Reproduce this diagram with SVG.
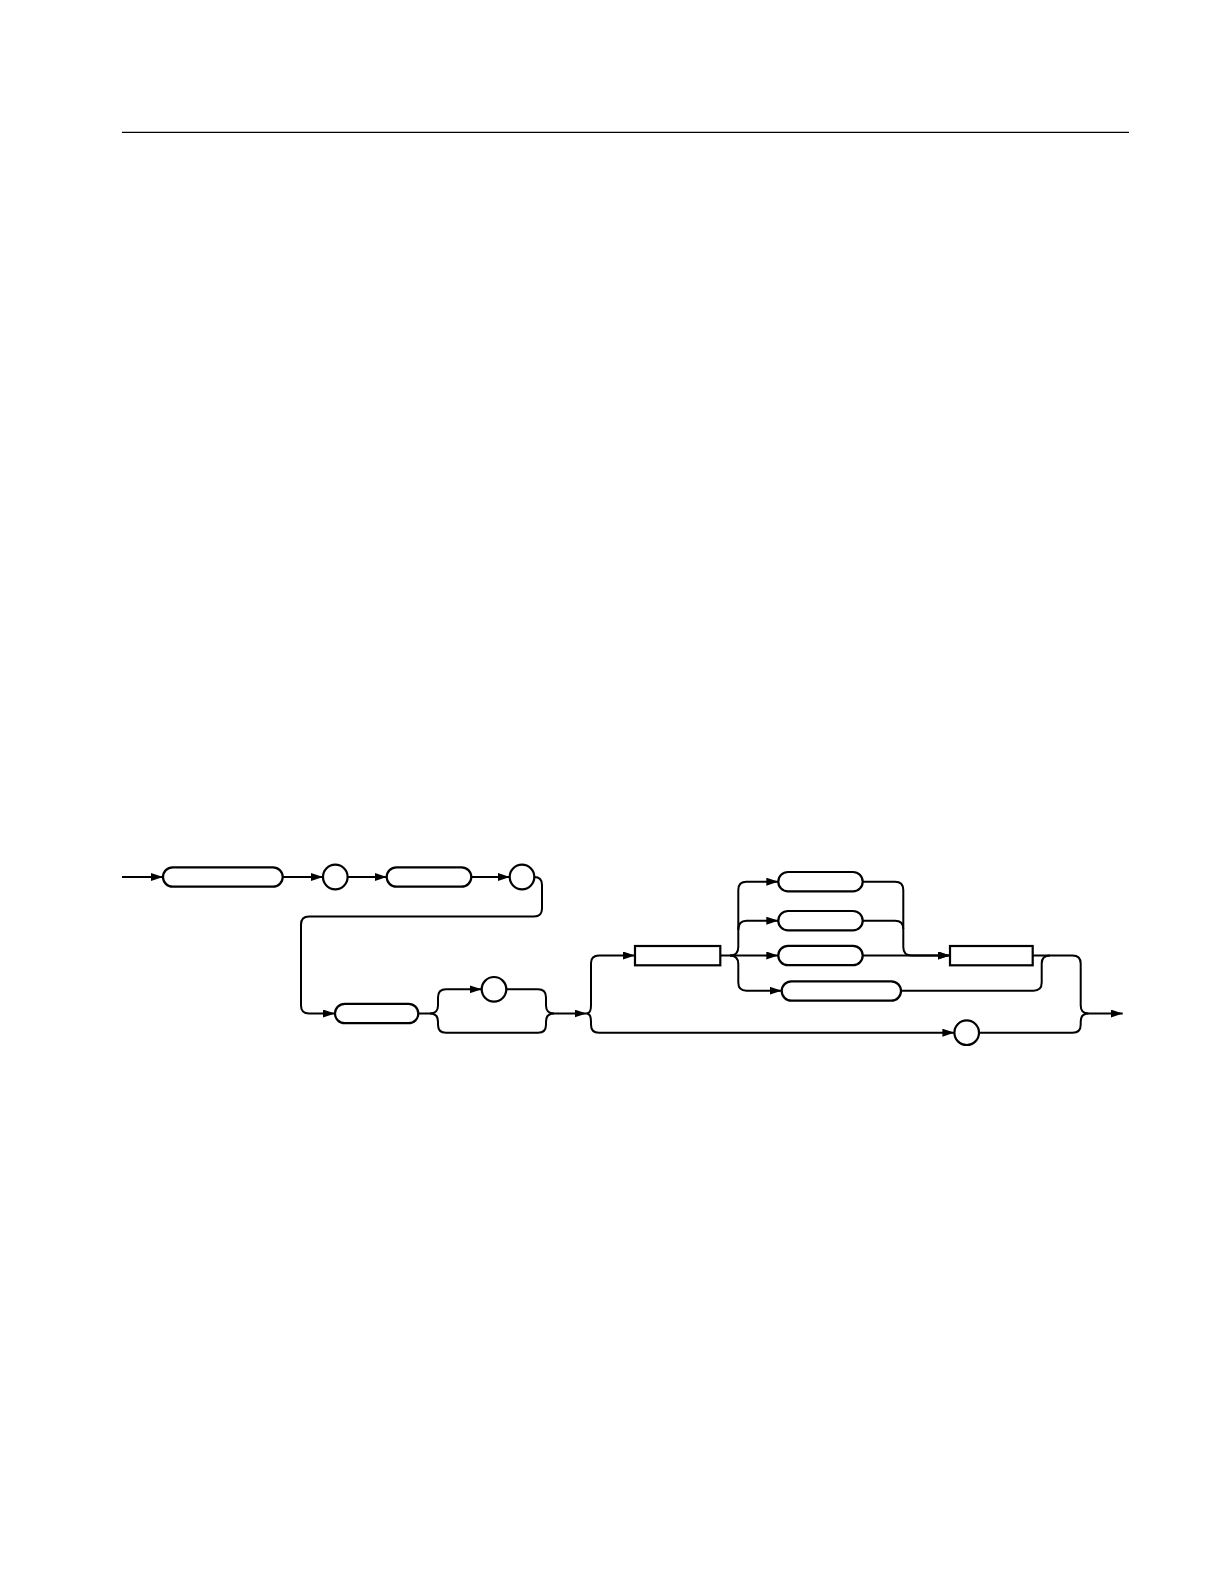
<svg xmlns="http://www.w3.org/2000/svg" width="1224" height="1584" viewBox="0 0 1224 1584">
<defs>
<marker id="arr" markerUnits="userSpaceOnUse" markerWidth="12" markerHeight="8" refX="12" refY="4" orient="auto">
<path d="M0,0 L12,4 L0,8 z" fill="#000"/>
</marker>
<style>
.n{fill:#fff;stroke:#000;stroke-width:2.2}
.c{fill:none;stroke:#000;stroke-width:2}
.a{marker-end:url(#arr)}
</style>
</defs>
<rect width="1224" height="1584" fill="#fff"/>
<line x1="122" y1="132.3" x2="1129" y2="132.3" stroke="#000" stroke-width="1.3"/>
<g id="connectors">
<path class="c a" d="M122,877 H163"/>
<path class="c a" d="M282.7,877 H323"/>
<path class="c a" d="M347.6,877 H386.7"/>
<path class="c a" d="M471.3,877 H509.7"/>
<path class="c a" d="M534.3,877 Q542,877 542,885 V908.5 Q542,916.5 534,916.5 H309 Q301,916.5 301,924.5 V1005.5 Q301,1013.5 309,1013.5 H335"/>
<path class="c" d="M418.3,1013.5 H430"/>
<path class="c a" d="M430,1013.5 Q438,1013.5 438,1005.5 V997.3 Q438,989.3 446,989.3 H481.7"/>
<path class="c" d="M430,1013.5 Q438,1013.5 438,1021.5 V1024.7 Q438,1032.7 446,1032.7 H538 Q546,1032.7 546,1024.7 V1021.5 Q546,1013.5 554,1013.5"/>
<path class="c" d="M506.3,989.3 H538 Q546,989.3 546,997.3 V1005.5 Q546,1013.5 554,1013.5"/>
<path class="c a" d="M554,1013.5 H586.5"/>
<path class="c a" d="M586.5,1013.5 Q591,1013.5 591,1005.5 V963 Q591,955.5 599,955.5 H635"/>
<path class="c a" d="M586.5,1013.5 Q591,1013.5 591,1021.5 V1024.7 Q591,1032.7 599,1032.7 H954.4"/>
<path class="c" d="M720.3,955.5 H730"/>
<path class="c a" d="M730,955.5 Q738.3,955.5 738.3,947 V890 Q738.3,881.7 746.5,881.7 H778.3"/>
<path class="c a" d="M738.3,930 Q738.3,920.7 746.5,920.7 H778.3"/>
<path class="c a" d="M730,955.5 H778.3"/>
<path class="c a" d="M730,955.5 Q738.3,955.5 738.3,964 V982.5 Q738.3,990.7 746.5,990.7 H781.7"/>
<path class="c a" d="M862.7,881.7 H895 Q903.3,881.7 903.3,890 V947 Q903.3,955.5 911.5,955.5 H950"/>
<path class="c" d="M862.7,920.7 H895 Q903.3,920.7 903.3,929"/>
<path class="c a" d="M862.7,955.5 H950"/>
<path class="c a" d="M1032.7,955.5 H1072.5 Q1080.7,955.5 1080.7,963.5 V1005.5 Q1080.7,1013.5 1088.5,1013.5 H1122.7"/>
<path class="c" d="M901,990.7 H1033.5 Q1041.7,990.7 1041.7,982.5 V963.5 Q1041.7,955.5 1050,955.5"/>
<path class="c" d="M979,1032.7 H1072.5 Q1080.7,1032.7 1080.7,1024.7 V1021.5 Q1080.7,1013.5 1088.5,1013.5"/>
</g>
<g id="node1"><rect class="n" x="163" y="867.3" width="119.7" height="19.4" rx="9.7"/></g>
<g id="node2"><circle class="n" cx="335.3" cy="877" r="12.3"/></g>
<g id="node3"><rect class="n" x="386.7" y="867.3" width="84.6" height="19.4" rx="9.7"/></g>
<g id="node4"><circle class="n" cx="522" cy="877" r="12.3"/></g>
<g id="node5"><rect class="n" x="335" y="1003.8" width="83.3" height="19.4" rx="9.7"/></g>
<g id="node6"><circle class="n" cx="494" cy="989.3" r="12.3"/></g>
<g id="node7"><rect class="n" x="635" y="946" width="85.3" height="19.3"/></g>
<g id="node8"><rect class="n" x="778.3" y="872" width="84.4" height="19.4" rx="9.7"/></g>
<g id="node9"><rect class="n" x="778.3" y="911" width="84.4" height="19.4" rx="9.7"/></g>
<g id="node10"><rect class="n" x="778.3" y="945.8" width="84.4" height="19.4" rx="9.7"/></g>
<g id="node11"><rect class="n" x="781.7" y="981.3" width="119.3" height="19.4" rx="9.7"/></g>
<g id="node12"><rect class="n" x="950" y="946" width="82.7" height="19.3"/></g>
<g id="node13"><circle class="n" cx="966.7" cy="1032.7" r="12.3"/></g>
</svg>
